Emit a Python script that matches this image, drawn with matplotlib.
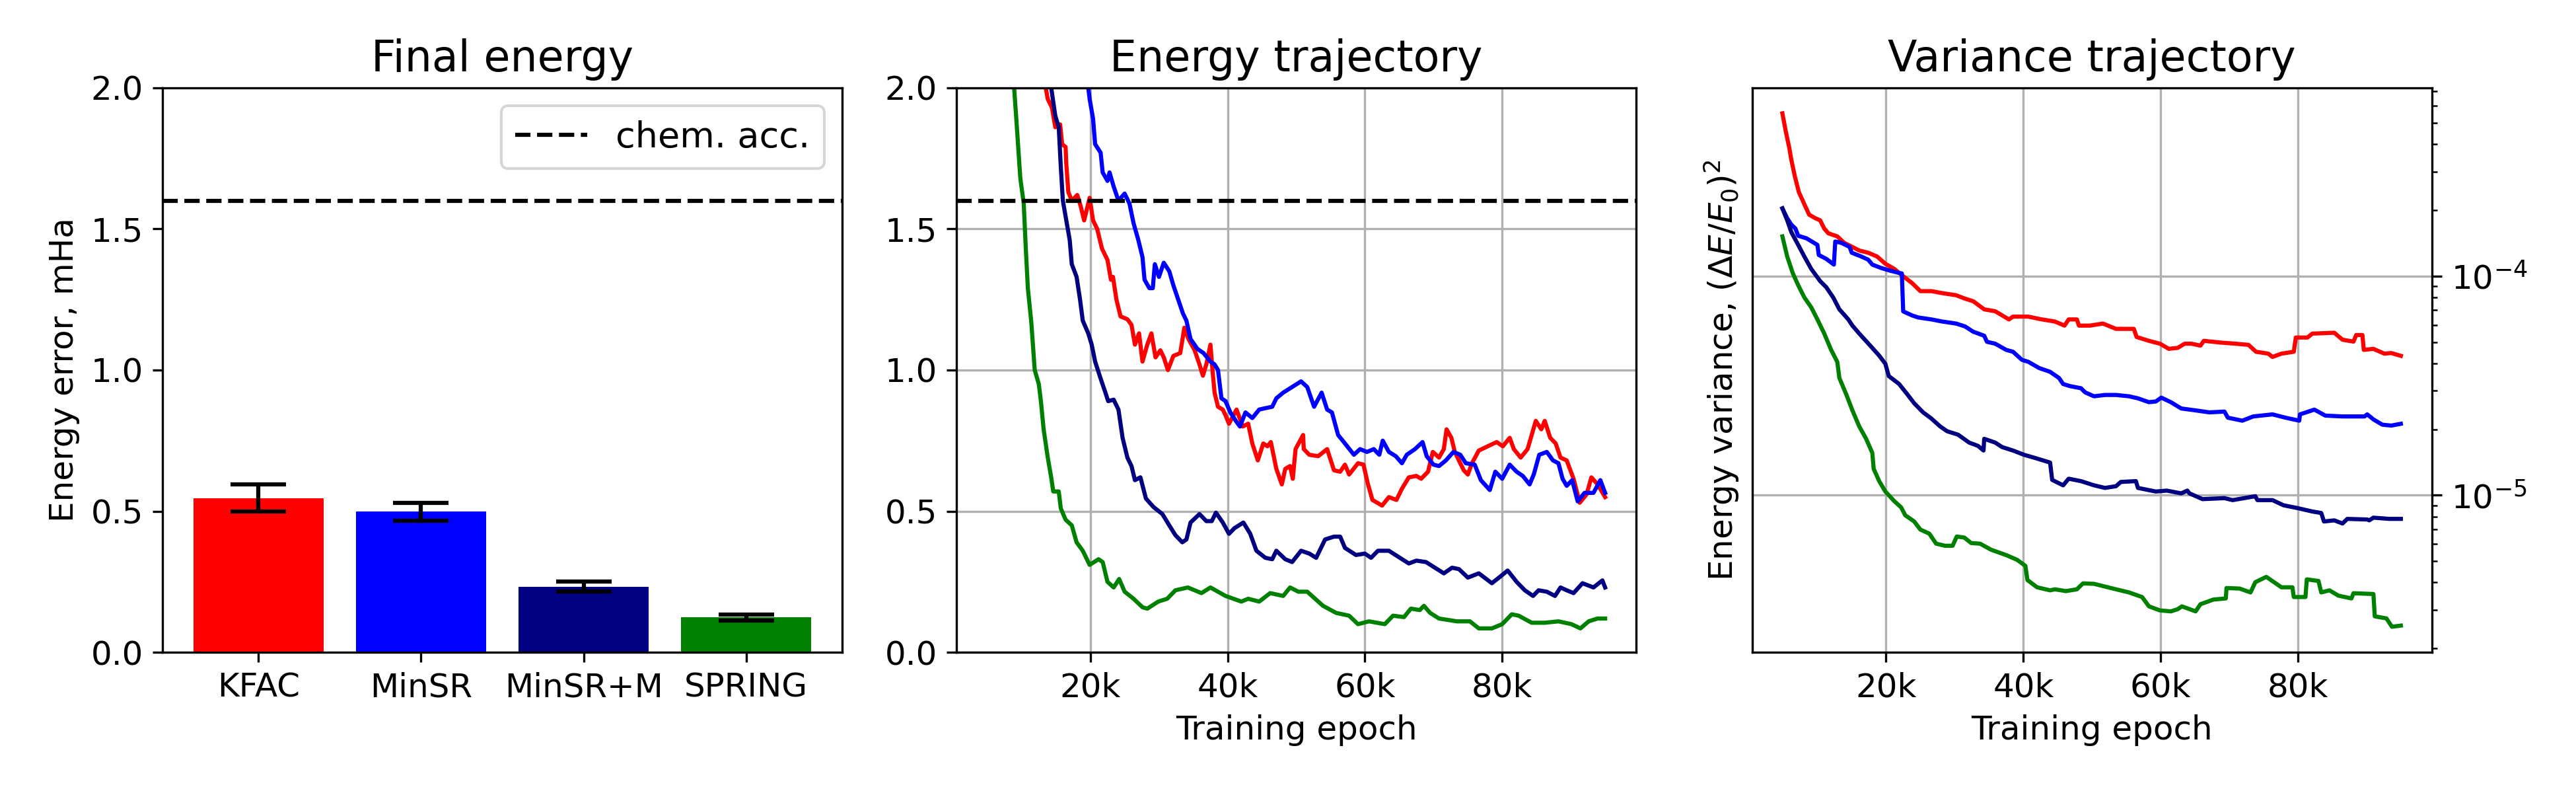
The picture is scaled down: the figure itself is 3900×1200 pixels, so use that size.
from matplotlib import pyplot as plt
from matplotlib.ticker import FixedLocator, FuncFormatter

import numpy as np

plt.rcParams['font.size'] = 12
plt.rcParams['axes.titlesize'] = 15.6
plt.rcParams['legend.fontsize'] = 13

methods = ['KFAC', 'MinSR', 'MinSR+M', 'SPRING']
colors = ['red', 'blue', 'navy', 'green']
final_err = [0.547, 0.498, 0.233, 0.124]
final_std = [0.048, 0.032, 0.018, 0.010]
chem_acc = 1.6

# energy trajectories, epochs in thousands
kfac_e_x = [5.0, 10.0, 13.5, 13.8, 14.4, 14.9, 15.6, 15.9, 16.4, 16.5, 16.8, 17.3, 18.1, 18.6, 19.1,
            19.9, 20.4, 21.0, 21.7, 22.5, 23.0, 23.3, 23.8, 24.4, 25.4, 26.0, 26.5, 27.1, 27.6, 28.3,
            28.9, 29.5, 30.2, 30.7, 31.3, 32.1, 33.1, 33.7, 34.3, 35.2, 35.9, 36.4, 36.9, 37.5, 37.8,
            38.1, 38.6, 39.3, 39.7, 40.2, 41.3, 42.2, 43.0, 43.6, 44.4, 45.2, 45.8, 46.3, 47.1, 47.9,
            48.4, 49.1, 49.5, 49.9, 51.0, 51.1, 51.9, 53.2, 54.5, 55.5, 56.4, 57.1, 57.7, 59.0, 59.8,
            60.4, 61.1, 62.5, 63.5, 64.6, 65.4, 66.4, 67.5, 68.2, 69.2, 69.9, 70.8, 71.5, 71.9, 72.6,
            73.1, 73.7, 74.4, 75.0, 75.6, 76.6, 77.9, 79.2, 80.1, 81.1, 81.7, 82.7, 83.7, 84.3, 84.9,
            85.7, 86.2, 87.0, 87.8, 88.5, 89.4, 90.4, 91.3, 92.3, 93.0, 93.9, 95.0]
kfac_e_y = [6.0, 3.0, 2.0, 1.96, 1.93, 1.86, 1.87, 1.80, 1.79, 1.73, 1.63, 1.60, 1.62, 1.58, 1.53,
            1.61, 1.53, 1.50, 1.43, 1.39, 1.32, 1.33, 1.25, 1.19, 1.18, 1.16, 1.09, 1.13, 1.03, 1.09,
            1.13, 1.045, 1.07, 1.045, 1.00, 1.05, 1.06, 1.15, 1.11, 1.07, 1.02, 0.98, 1.02, 1.09, 1.00,
            0.92, 0.87, 0.86, 0.84, 0.81, 0.86, 0.80, 0.81, 0.74, 0.68, 0.74, 0.73, 0.745, 0.65, 0.595,
            0.65, 0.66, 0.615, 0.72, 0.77, 0.72, 0.70, 0.695, 0.72, 0.645, 0.64, 0.665, 0.63, 0.67, 0.665,
            0.60, 0.54, 0.52, 0.55, 0.54, 0.58, 0.62, 0.625, 0.615, 0.64, 0.71, 0.69, 0.72, 0.79, 0.76,
            0.71, 0.68, 0.645, 0.63, 0.67, 0.715, 0.73, 0.745, 0.73, 0.76, 0.72, 0.69, 0.72, 0.77, 0.82,
            0.79, 0.82, 0.76, 0.74, 0.69, 0.68, 0.615, 0.53, 0.56, 0.62, 0.595, 0.55]

minsr_e_x = [5.0, 12.0, 19.7, 19.9, 20.4, 20.7, 21.5, 21.8, 22.5, 22.8, 23.4, 24.1, 25.0, 25.7, 26.3,
             27.0, 27.6, 27.9, 28.6, 29.1, 29.4, 30.0, 30.7, 31.5, 32.1, 32.8, 33.5, 34.0, 34.6, 35.6,
             36.5, 37.5, 38.1, 38.6, 39.1, 39.7, 40.4, 41.2, 41.8, 42.6, 43.6, 44.6, 45.5, 46.5, 47.1,
             48.1, 49.4, 50.7, 51.6, 52.6, 53.7, 54.5, 55.2, 56.1, 57.1, 58.4, 59.3, 60.3, 61.3, 62.1,
             62.6, 63.5, 64.5, 65.4, 66.1, 67.3, 68.4, 69.0, 70.0, 70.8, 71.8, 72.9, 73.9, 74.7, 76.0,
             76.9, 78.2, 79.0, 80.0, 81.1, 82.1, 83.0, 84.0, 84.6, 85.4, 86.5, 87.4, 88.2, 88.8, 89.4,
             90.2, 91.0, 92.0, 93.3, 94.3, 95.0]
minsr_e_y = [7.0, 3.5, 2.0, 1.96, 1.89, 1.80, 1.77, 1.70, 1.67, 1.70, 1.65, 1.60, 1.625, 1.59, 1.52,
             1.46, 1.40, 1.32, 1.29, 1.29, 1.375, 1.33, 1.38, 1.35, 1.30, 1.25, 1.20, 1.175, 1.11, 1.075,
             1.06, 1.03, 1.02, 1.00, 0.90, 0.89, 0.85, 0.82, 0.80, 0.85, 0.83, 0.86, 0.865, 0.87, 0.90,
             0.92, 0.94, 0.96, 0.94, 0.87, 0.92, 0.86, 0.85, 0.77, 0.74, 0.70, 0.72, 0.71, 0.72, 0.70,
             0.75, 0.71, 0.695, 0.67, 0.70, 0.72, 0.745, 0.695, 0.665, 0.66, 0.68, 0.71, 0.70, 0.67, 0.665,
             0.61, 0.575, 0.64, 0.615, 0.665, 0.64, 0.625, 0.595, 0.63, 0.70, 0.71, 0.68, 0.67, 0.615, 0.59,
             0.61, 0.535, 0.565, 0.565, 0.61, 0.565]

minsrm_e_x = [5.0, 10.0, 14.3, 14.9, 15.4, 15.7, 16.0, 16.5, 17.0, 17.3, 18.0, 18.5, 18.9, 19.7, 20.2,
              20.7, 21.5, 22.2, 22.6, 23.4, 24.1, 24.7, 25.4, 26.0, 26.5, 27.3, 28.1, 29.2, 30.5, 31.5,
              32.4, 33.4, 34.0, 34.6, 35.9, 36.9, 37.7, 38.3, 39.3, 40.2, 41.0, 42.3, 43.3, 44.2, 45.5,
              46.5, 47.1, 48.4, 49.4, 50.7, 51.9, 52.9, 54.2, 55.5, 56.4, 57.1, 58.7, 60.0, 60.9, 61.9,
              63.5, 65.1, 66.4, 67.5, 68.9, 70.2, 71.5, 72.7, 73.7, 75.0, 76.6, 78.5, 79.8, 80.8, 82.1,
              83.3, 84.5, 85.3, 86.5, 87.7, 88.5, 89.4, 90.4, 91.7, 93.3, 94.6, 95.0]
minsrm_e_y = [5.5, 3.0, 2.0, 1.90, 1.86, 1.72, 1.60, 1.53, 1.46, 1.375, 1.33, 1.25, 1.175, 1.13, 1.09,
              1.03, 0.97, 0.92, 0.89, 0.895, 0.86, 0.76, 0.69, 0.66, 0.61, 0.62, 0.545, 0.515, 0.49, 0.45,
              0.415, 0.39, 0.40, 0.46, 0.49, 0.465, 0.465, 0.495, 0.46, 0.42, 0.44, 0.46, 0.42, 0.36, 0.335,
              0.33, 0.36, 0.33, 0.32, 0.36, 0.35, 0.335, 0.40, 0.41, 0.41, 0.37, 0.345, 0.35, 0.335, 0.36,
              0.36, 0.335, 0.315, 0.325, 0.32, 0.30, 0.28, 0.30, 0.295, 0.265, 0.28, 0.245, 0.27, 0.29, 0.25,
              0.22, 0.20, 0.22, 0.215, 0.20, 0.23, 0.22, 0.21, 0.245, 0.23, 0.255, 0.23]

spring_e_x = [5.0, 7.0, 8.9, 9.3, 9.8, 10.3, 10.6, 10.9, 11.4, 11.9, 12.5, 12.8, 13.2, 13.8, 14.3,
              14.6, 15.4, 15.7, 16.4, 17.3, 18.0, 18.9, 19.9, 21.2, 21.8, 22.5, 23.4, 24.2, 25.0, 26.3,
              27.6, 28.3, 29.9, 31.2, 32.4, 34.2, 36.2, 37.5, 39.7, 42.0, 43.0, 44.6, 46.2, 48.1, 49.1,
              50.3, 51.6, 53.9, 55.8, 57.7, 59.0, 60.6, 62.9, 64.1, 65.7, 66.7, 68.0, 68.6, 69.5, 70.8,
              73.4, 75.3, 76.6, 78.5, 80.0, 81.4, 82.4, 84.3, 86.2, 88.2, 90.1, 91.4, 92.6, 93.9, 95.0]
spring_e_y = [4.5, 2.9, 2.0, 1.86, 1.68, 1.59, 1.43, 1.29, 1.17, 1.0, 0.95, 0.89, 0.79, 0.69, 0.62,
              0.57, 0.57, 0.51, 0.47, 0.45, 0.39, 0.36, 0.31, 0.33, 0.32, 0.25, 0.23, 0.26, 0.215, 0.19,
              0.16, 0.155, 0.18, 0.19, 0.22, 0.23, 0.21, 0.23, 0.20, 0.18, 0.19, 0.18, 0.21, 0.20, 0.23,
              0.215, 0.215, 0.165, 0.14, 0.13, 0.10, 0.11, 0.10, 0.13, 0.125, 0.155, 0.15, 0.165, 0.14, 0.12,
              0.11, 0.11, 0.085, 0.085, 0.10, 0.135, 0.13, 0.105, 0.105, 0.11, 0.10, 0.085, 0.11, 0.12, 0.12]

# variance trajectories, epochs in thousands
kfac_v_x = [4.9, 5.4, 5.9, 6.2, 6.7, 7.3, 8.1, 8.8, 9.7, 10.4, 11.0, 11.6, 12.9, 13.9, 15.1,
            16.1, 17.4, 18.7, 19.9, 21.2, 22.5, 23.8, 25.0, 26.6, 28.2, 30.2, 31.5, 32.7, 34.3, 35.9,
            37.9, 38.5, 40.7, 42.7, 44.6, 46.0, 46.6, 47.8, 48.1, 49.7, 51.6, 53.5, 56.1, 56.5, 58.3,
            59.9, 61.2, 62.5, 63.5, 64.5, 65.8, 66.3, 68.7, 70.9, 72.8, 73.9, 75.7, 76.3, 77.6, 79.4,
            79.7, 81.4, 82.1, 85.3, 86.5, 88.1, 88.5, 89.4, 89.6, 91.0, 92.6, 93.6, 95.0]
kfac_v_y = [55.4, 45.7, 38.6, 34.0, 28.7, 24.2, 21.3, 19.1, 18.4, 18.0, 16.5, 15.7, 15.2, 14.2, 13.6,
            13.1, 12.8, 12.3, 11.4, 10.8, 10.0, 9.3, 8.55, 8.55, 8.37, 8.19, 7.9, 7.69, 7.06, 6.92,
            6.35, 6.54, 6.54, 6.35, 6.21, 5.95, 6.35, 6.35, 5.95, 5.95, 6.08, 5.75, 5.75, 5.28, 5.07,
            4.92, 4.66, 4.71, 4.92, 4.92, 4.82, 5.07, 4.98, 4.92, 4.86, 4.52, 4.43, 4.28, 4.43, 4.52,
            5.25, 5.25, 5.47, 5.52, 5.13, 5.03, 5.39, 5.39, 4.61, 4.66, 4.43, 4.46, 4.33]  # 1e-5

minsr_v_x = [4.9, 5.6, 6.2, 6.8, 7.2, 8.4, 10.0, 10.2, 11.3, 12.4, 12.6, 13.5, 14.7, 15.0, 16.4,
             17.4, 18.0, 19.3, 20.6, 21.9, 22.3, 22.5, 23.8, 24.7, 26.6, 28.2, 30.2, 31.5, 32.7, 34.3,
             34.7, 35.9, 37.5, 38.5, 39.8, 40.7, 42.3, 43.9, 45.2, 45.8, 46.8, 48.4, 49.0, 50.3, 51.9,
             53.5, 55.4, 56.7, 58.3, 59.3, 60.1, 61.5, 63.0, 65.1, 67.1, 69.3, 69.8, 71.9, 73.5, 76.3,
             78.2, 80.2, 80.3, 82.4, 84.0, 86.5, 89.7, 90.1, 91.0, 92.3, 93.6, 95.0]
minsr_v_y = [20.4, 18.4, 17.2, 16.5, 15.3, 14.9, 13.9, 12.5, 12.0, 11.3, 14.4, 14.2, 13.6, 12.8, 12.3,
             11.9, 11.3, 10.9, 10.6, 10.35, 10.3, 6.91, 6.62, 6.48, 6.35, 6.21, 6.08, 5.9, 5.58, 5.35,
             5.02, 4.92, 4.61, 4.52, 4.15, 4.07, 3.81, 3.66, 3.43, 3.22, 3.15, 3.08, 2.95, 2.83, 2.87,
             2.87, 2.83, 2.77, 2.66, 2.68, 2.79, 2.66, 2.49, 2.44, 2.39, 2.41, 2.26, 2.19, 2.29, 2.34,
             2.26, 2.19, 2.34, 2.46, 2.31, 2.29, 2.29, 2.34, 2.22, 2.10, 2.08, 2.12]  # 1e-5

minsrm_v_x = [4.9, 5.6, 6.2, 7.2, 8.1, 9.1, 10.4, 11.3, 12.3, 13.2, 14.5, 15.1, 16.1, 17.7, 19.0,
              19.9, 20.4, 21.9, 23.1, 24.1, 25.4, 26.6, 27.9, 28.9, 30.5, 32.1, 33.4, 34.2, 34.3, 35.9,
              36.9, 38.5, 40.1, 41.7, 43.9, 44.2, 45.8, 46.6, 48.4, 50.3, 51.9, 53.5, 54.2, 56.4, 56.7,
              59.3, 60.9, 63.0, 63.9, 64.2, 66.1, 69.3, 70.5, 73.8, 74.1, 76.3, 77.9, 80.0, 82.1, 83.4,
              83.8, 85.3, 86.5, 87.2, 90.1, 90.4, 91.0, 93.3, 95.0]
minsrm_v_y = [20.4, 18.0, 15.9, 13.9, 12.3, 10.8, 9.5, 8.9, 8.0, 7.06, 6.35, 5.95, 5.47, 4.82, 4.34,
              3.98, 3.50, 3.22, 2.89, 2.63, 2.39, 2.24, 2.06, 1.96, 1.89, 1.74, 1.68, 1.60, 1.81, 1.74,
              1.66, 1.60, 1.53, 1.48, 1.41, 1.175, 1.11, 1.19, 1.16, 1.11, 1.08, 1.10, 1.15, 1.16, 1.08,
              1.04, 1.05, 1.02, 1.05, 1.02, 0.96, 0.97, 0.95, 0.99, 0.95, 0.95, 0.90, 0.873, 0.843, 0.83,
              0.759, 0.768, 0.743, 0.78, 0.775, 0.768, 0.79, 0.78, 0.78]  # 1e-5

spring_v_x = [4.9, 5.6, 6.4, 7.2, 8.1, 9.1, 10.0, 11.0, 12.0, 12.9, 13.2, 14.2, 15.1, 16.1, 17.1,
              18.0, 18.2, 19.0, 19.9, 21.2, 22.2, 22.8, 24.1, 25.0, 26.3, 27.3, 28.6, 29.7, 30.3, 31.4,
              32.4, 33.7, 35.3, 37.5, 39.1, 40.3, 40.6, 42.0, 43.9, 44.6, 46.2, 47.8, 48.7, 50.3, 53.5,
              55.4, 57.3, 58.3, 59.9, 61.5, 62.5, 63.1, 65.1, 65.8, 67.7, 69.5, 69.6, 71.5, 73.1, 73.8,
              75.4, 77.6, 79.2, 79.4, 81.1, 81.3, 83.0, 83.4, 84.6, 85.9, 87.8, 88.1, 91.0, 91.2, 92.9,
              93.7, 95.0]
spring_v_y = [152, 123, 103.5, 91, 80, 72.1, 63.5, 54.7, 46.1, 40.6, 34.3, 28.9, 24.4, 20.6, 18.1,
              15.6, 13.2, 11.6, 10.4, 9.4, 8.8, 8.1, 7.59, 6.97, 6.68, 6.01, 5.88, 5.88, 6.48, 6.41,
              6.05, 6.01, 5.64, 5.33, 5.07, 4.76, 4.10, 3.80, 3.68, 3.72, 3.65, 3.72, 3.96, 3.94, 3.72,
              3.60, 3.43, 3.11, 2.98, 2.95, 3.02, 3.11, 2.95, 3.18, 3.34, 3.38, 3.77, 3.75, 3.60, 4.01,
              4.24, 3.80, 3.80, 3.43, 3.43, 4.13, 4.06, 3.60, 3.68, 3.48, 3.38, 3.57, 3.54, 2.80, 2.74,
              2.51, 2.54]  # 1e-6

energy = [(kfac_e_x, kfac_e_y), (minsr_e_x, minsr_e_y),
          (minsrm_e_x, minsrm_e_y), (spring_e_x, spring_e_y)]
variance = [(kfac_v_x, np.array(kfac_v_y) * 1e-5), (minsr_v_x, np.array(minsr_v_y) * 1e-5),
            (minsrm_v_x, np.array(minsrm_v_y) * 1e-5), (spring_v_x, np.array(spring_v_y) * 1e-6)]

kfmt = FuncFormatter(lambda v, pos: f'{int(v / 1000)}k')
kticks = [20000, 40000, 60000, 80000]

fig = plt.figure(figsize=(13, 4), dpi=300)
bottom, height, width = 0.1773, 0.7121, 0.2638
ax1 = fig.add_axes([0.0631, bottom, width, height])
ax2 = fig.add_axes([0.3713, bottom, width, height])
ax3 = fig.add_axes([0.6802, bottom, width, height])

# Final energy bars
index = np.arange(len(methods))
ax1.bar(index, final_err, 0.8, color=colors)
ax1.errorbar(index, final_err, yerr=final_std, fmt='none', ecolor='k',
             capsize=10, elinewidth=1.5, capthick=1.5)
ax1.axhline(chem_acc, color='k', ls='--', label='chem. acc.')
ax1.set_xticks(index)
ax1.set_xticklabels(methods)
ax1.set_ylim(0, 2)
ax1.set_yticks([0.0, 0.5, 1.0, 1.5, 2.0])
ax1.set_ylabel('Energy error, mHa')
ax1.set_title('Final energy')
ax1.legend(loc='upper right')

# Energy trajectory
for (x, y), c in zip(energy, colors):
    ax2.plot(np.array(x) * 1000, y, color=c, lw=1.5)
ax2.axhline(chem_acc, color='k', ls='--')
ax2.set_ylim(0, 2)
ax2.set_yticks([0.0, 0.5, 1.0, 1.5, 2.0])
ax2.xaxis.set_major_locator(FixedLocator(kticks))
ax2.xaxis.set_major_formatter(kfmt)
ax2.set_xlabel('Training epoch')
ax2.set_title('Energy trajectory')
ax2.grid(True)

# Variance trajectory
for (x, y), c in zip(variance, colors):
    ax3.plot(np.array(x) * 1000, y, color=c, lw=1.5)
ax3.set_yscale('log')
ax3.yaxis.tick_right()
ax3.xaxis.set_major_locator(FixedLocator(kticks))
ax3.xaxis.set_major_formatter(kfmt)
ax3.set_xlabel('Training epoch')
ax3.set_ylabel(r'Energy variance, $(\Delta E/E_0)^2$')
ax3.set_title('Variance trajectory')
ax3.grid(True)

for ax in (ax2, ax3):
    ax.set_xlim(500, 99500)

fig.savefig('out.png', dpi=300)
